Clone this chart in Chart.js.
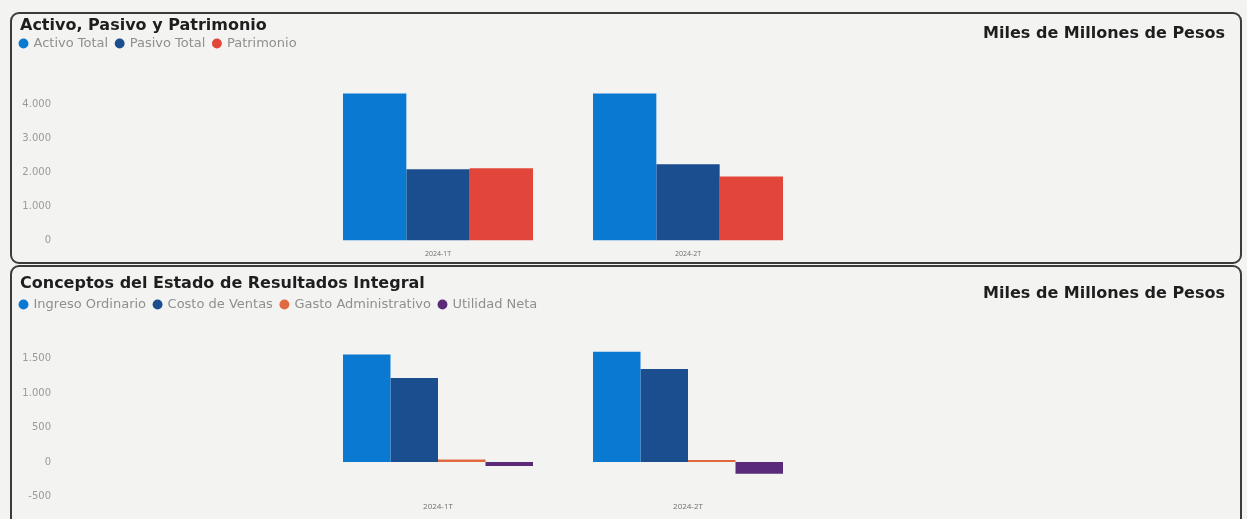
<!DOCTYPE html>
<html lang="es">
<head>
<meta charset="utf-8">
<script src="https://cdn.jsdelivr.net/npm/chart.js@4.4.1/dist/chart.umd.min.js"></script>
<style>
  body { margin: 0; width: 1247px; height: 519px; overflow: hidden; position: relative; background: #f3f3f2; }
  .panel { position: absolute; left: 10px; width: 1232px; box-sizing: border-box; border: 2px solid #3b3b3b; border-radius: 9px; }
  #panel1 { top: 12px; height: 252px; }
  #panel2 { top: 265px; height: 290px; }
  .panel canvas { position: absolute; left: 0; top: 0; }
  .titulo { position: absolute; left: 8px; font: bold 16px "DejaVu Sans", sans-serif; color: #1e1e1e; white-space: nowrap; }
  .unidad { position: absolute; right: 15px; font: bold 16px "DejaVu Sans", sans-serif; color: #1e1e1e; white-space: nowrap; }
</style>
</head>
<body>
<div class="panel" id="panel1">
  <canvas id="balance" width="1228" height="255"></canvas>
  <div class="titulo" style="top:1px">Activo, Pasivo y Patrimonio</div>
  <div class="unidad" style="top:9px">Miles de Millones de Pesos</div>
</div>
<div class="panel" id="panel2">
  <canvas id="resultados" width="1228" height="257"></canvas>
  <div class="titulo" style="top:6px">Conceptos del Estado de Resultados Integral</div>
  <div class="unidad" style="top:16px">Miles de Millones de Pesos</div>
</div>
<script>
const periodos = ["2024-1T", "2024-2T"];

// Activo, Pasivo y Patrimonio
const activoTotal = [4310, 4310];
const pasivoTotal = [2090, 2240];
const patrimonio = [2120, 1880];
const ticksBalance = [0, 1000, 2000, 3000, 4000];

// Estado de Resultados Integral
const ingresoOrdinario = [1560, 1600];
const costoVentas = [1220, 1350];
const gastoAdministrativo = [35, 30];
const utilidadNeta = [-60, -170];
const ticksResultados = [-500, 0, 500, 1000, 1500];

const azulClaro = "#0a79d1";
const azulOscuro = "#1b4e8e";

function miles(v) {
  return String(v).replace(/\B(?=(\d{3})+(?!\d))/g, ".");
}

// espacio extra entre la leyenda y el area del grafico
function margenLeyenda(extra) {
  return {
    id: "margenLeyenda",
    beforeInit(chart) {
      const fitOriginal = chart.legend.fit;
      chart.legend.fit = function () {
        fitOriginal.bind(chart.legend)();
        this.height += extra;
      };
    }
  };
}

function opciones(cfg) {
  return {
    responsive: false,
    animation: false,
    layout: { padding: { left: 0, right: 427, top: cfg.top, bottom: cfg.bottom } },
    plugins: {
      legend: {
        align: "start",
        labels: {
          usePointStyle: true,
          pointStyle: "circle",
          boxWidth: 7,
          boxHeight: 7,
          padding: 8,
          color: "#8f8f8f",
          font: { family: "DejaVu Sans", size: 13 }
        }
      },
      tooltip: { enabled: false }
    },
    scales: {
      x: {
        grid: { display: false, drawTicks: false },
        border: { display: false },
        ticks: { color: "#6f6f6f", padding: cfg.xPad, font: { family: "Open Sans", size: cfg.xFont } }
      },
      y: {
        min: cfg.min,
        max: cfg.max,
        grid: { display: false, drawTicks: false },
        border: { display: false },
        afterBuildTicks: s => {
          s.ticks = cfg.ticks.map(v => ({ value: v }));
        },
        // etiquetas pegadas al borde izquierdo, area de barras mas a la derecha
        afterFit: s => {
          s.width = 301;
          s.paddingTop = 0;
          s.paddingBottom = 0;
        },
        ticks: {
          padding: 262,
          color: "#9a9a9a",
          font: { family: "DejaVu Sans", size: 10 },
          callback: v => miles(v)
        }
      }
    },
    datasets: { bar: { categoryPercentage: 0.76, barPercentage: 1.0 } }
  };
}

new Chart(document.getElementById("balance"), {
  type: "bar",
  data: {
    labels: periodos,
    datasets: [
      { label: "Activo Total", data: activoTotal, backgroundColor: azulClaro },
      { label: "Pasivo Total", data: pasivoTotal, backgroundColor: azulOscuro },
      { label: "Patrimonio", data: patrimonio, backgroundColor: "#e2463a" }
    ]
  },
  options: opciones({ top: 15, bottom: 2, min: 0, max: 4500, ticks: ticksBalance, xPad: 9, xFont: 7 }),
  plugins: [margenLeyenda(27)]
});

new Chart(document.getElementById("resultados"), {
  type: "bar",
  data: {
    labels: periodos,
    datasets: [
      { label: "Ingreso Ordinario", data: ingresoOrdinario, backgroundColor: azulClaro },
      { label: "Costo de Ventas", data: costoVentas, backgroundColor: azulOscuro },
      { label: "Gasto Administrativo", data: gastoAdministrativo, backgroundColor: "#e0693f" },
      { label: "Utilidad Neta", data: utilidadNeta, backgroundColor: "#5a2b79" }
    ]
  },
  options: opciones({ top: 23, bottom: 6, min: -500, max: 1800, ticks: ticksResultados, xPad: 6, xFont: 8 }),
  plugins: [margenLeyenda(17)]
});
</script>
</body>
</html>
